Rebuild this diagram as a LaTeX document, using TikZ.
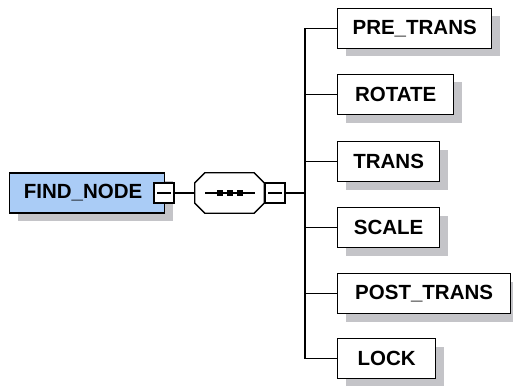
\documentclass[tikz,border=0pt]{standalone}
\usepackage{fontspec}
\setmainfont{Liberation Sans}
\usetikzlibrary{shadows,calc}
\definecolor{nodeblue}{RGB}{170,204,246}
\definecolor{shadowgray}{RGB}{196,196,200}
\begin{document}
\begin{tikzpicture}[x=1pt,y=-1pt,
  shad/.style={drop shadow={shadow xshift=8pt,shadow yshift=-8pt,fill=shadowgray,opacity=1}},
  elem/.style={draw,line width=1.3pt,fill=white,rectangle,minimum height=40pt,inner sep=0pt,
    font=\fontsize{20.5}{20.5}\selectfont\bfseries,shad,anchor=west},
  minusbox/.style={draw,line width=1.1pt,fill=white,rectangle,minimum size=20pt,inner sep=0pt,
    path picture={\draw[line width=1.1pt] ([xshift=3pt]path picture bounding box.west) -- ([xshift=-3pt]path picture bounding box.east);}},
  conn/.style={line width=1.3pt}]
\useasboundingbox (0,0) rectangle (513,385);
% root
\node[elem,fill=nodeblue,minimum width=155pt] (find) at (9,193) {FIND\_NODE\kern8pt};
% sequence compositor
\node[rectangle,minimum width=69pt,minimum height=40pt,inner sep=0pt] (seq) at (229.5,193) {};
\fill[shadowgray,shift={(8,8)}] ($(seq.north west)+(10,0)$) -- ($(seq.north east)+(-10,0)$) -- ($(seq.north east)+(0,10)$) -- ($(seq.south east)+(0,-10)$) -- ($(seq.south east)+(-10,0)$) -- ($(seq.south west)+(10,0)$) -- ($(seq.south west)+(0,-10)$) -- ($(seq.north west)+(0,10)$) -- cycle;
\filldraw[fill=white,draw=black,line width=1.3pt] ($(seq.north west)+(10,0)$) -- ($(seq.north east)+(-10,0)$) -- ($(seq.north east)+(0,10)$) -- ($(seq.south east)+(0,-10)$) -- ($(seq.south east)+(-10,0)$) -- ($(seq.south west)+(10,0)$) -- ($(seq.south west)+(0,-10)$) -- ($(seq.north west)+(0,10)$) -- cycle;
\draw[line width=1.1pt] ($(seq.center)+(-24.5,0)$) -- ($(seq.center)+(25.5,0)$);
\foreach \dx in {-9.5,0.5,10.5}
  \fill ($(seq.center)+(\dx-3.2,-3.2)$) rectangle ($(seq.center)+(\dx+3.2,3.2)$);
% minus boxes
\node[minusbox] (fm) at (164,193) {};
\node[minusbox] (sm) at (275,193) {};
% children
\node[elem,minimum width=154pt] (pre) at (337,28.5) {PRE\_TRANS};
\node[elem,minimum width=116pt] (rot) at (337,94.5) {ROTATE};
\node[elem,minimum width=102pt] (tra) at (337,161.5) {TRANS};
\node[elem,minimum width=102pt] (sca) at (337,227.5) {SCALE};
\node[elem,minimum width=173pt] (pos) at (337,293.5) {POST\_TRANS};
\node[elem,minimum width=98pt] (loc) at (337,358.5) {LOCK};
% connectors
\coordinate (j) at (305,193);
\draw[conn] (fm.east) -- (seq.west);
\draw[conn] (sm.east) -- (j);
\foreach \c in {pre,rot,tra,sca,pos,loc}
  \draw[conn] (j) |- (\c.west);
\end{tikzpicture}
\end{document}
